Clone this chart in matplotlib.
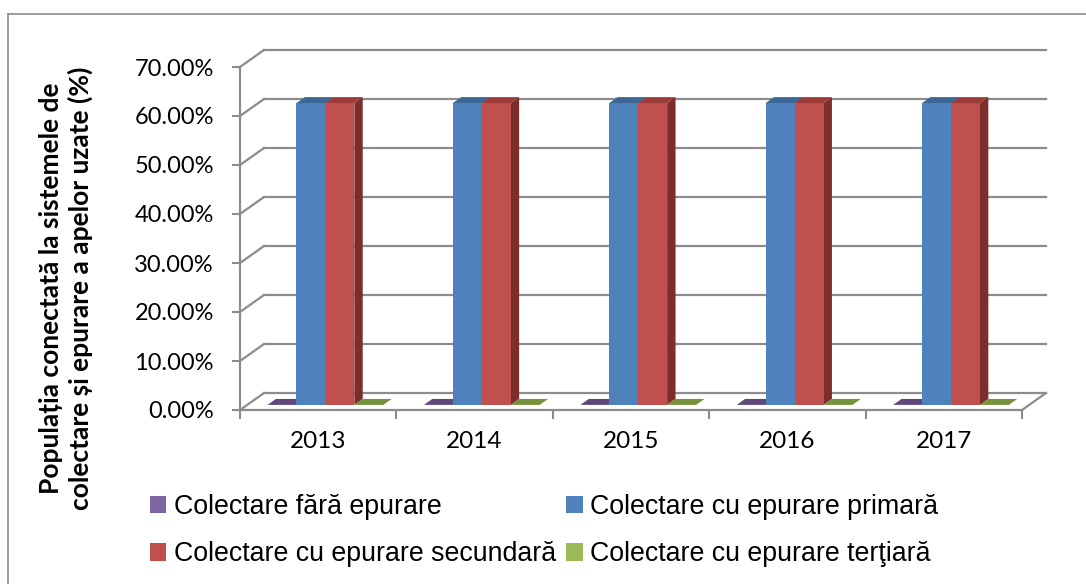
import matplotlib.pyplot as plt
from matplotlib.patches import Polygon, Rectangle
from matplotlib.lines import Line2D

# Data (%)
years = ['2013', '2014', '2015', '2016', '2017']
fara_epurare = [0.0, 0.0, 0.0, 0.0, 0.0]
epurare_primara = [61.6, 61.6, 61.6, 61.6, 61.6]
epurare_secundara = [61.6, 61.6, 61.6, 61.6, 61.6]
epurare_tertiara = [0.0, 0.0, 0.0, 0.0, 0.0]
y_ticks = [0, 10, 20, 30, 40, 50, 60, 70]

series = [
    ('Colectare fără epurare', fara_epurare, '#8064A2', '#5F497A', '#4F3D66'),
    ('Colectare cu epurare primară', epurare_primara, '#4F81BD', '#3C6696', '#345A85'),
    ('Colectare cu epurare secundară', epurare_secundara, '#C0504D', '#9E3C39', '#7B2E2C'),
    ('Colectare cu epurare terţiară', epurare_tertiara, '#9BBB59', '#76923C', '#62792F'),
]

W, H = 1086, 584
fig = plt.figure(figsize=(W / 100, H / 100), dpi=100)

# pixel geometry of the Excel-style 3D plot
px_x0, px_x5 = 240, 1022
px_y0, px_y70 = 410, 67
sx = (px_x5 - px_x0) / 5.0
sy = (px_y0 - px_y70) / 70.0
ax_left, ax_right, ax_bottom, ax_top = 240, 1052, 418, 40
ax = fig.add_axes([ax_left / W, 1 - ax_bottom / H, (ax_right - ax_left) / W, (ax_bottom - ax_top) / H])
ax.set_xlim(0, (ax_right - ax_left) / sx)
ax.set_ylim(-(ax_bottom - px_y0) / sy, (px_y0 - ax_top) / sy)

DX = 24 / sx   # depth offset (categories)
DY = 17 / sy   # depth offset (%)
d0, d1 = 0.30, 0.65
n = len(years)
grid_c = '#8C8C8C'

# back wall, side wall and floor lines
for v in y_ticks:
    ax.plot([0, DX], [v, v + DY], color=grid_c, lw=1.6, zorder=1)
    ax.plot([DX, n + DX], [v + DY, v + DY], color=grid_c, lw=1.6, zorder=1)
ax.plot([n, n + DX], [0, DY], color=grid_c, lw=1.6, zorder=1)

# bars
bw = 0.185
start = 0.5 - 2 * bw
z = 2
for i in range(n):
    for j, (name, vals, face, top, side) in enumerate(series):
        x0 = i + start + j * bw
        h = vals[i]
        fx0, fx1 = x0 + d0 * DX, x0 + bw + d0 * DX
        bx0, bx1 = x0 + d1 * DX, x0 + bw + d1 * DX
        fy, by = d0 * DY, d1 * DY
        if h > 0:
            ax.add_patch(Polygon([(fx1, fy), (bx1, by), (bx1, h + by), (fx1, h + fy)],
                                 closed=True, fc=side, ec='none', zorder=z))
            ax.add_patch(Polygon([(fx0, fy), (fx1, fy), (fx1, h + fy), (fx0, h + fy)],
                                 closed=True, fc=face, ec='none', zorder=z + 1))
        ax.add_patch(Polygon([(fx0, h + fy), (fx1, h + fy), (bx1, h + by), (bx0, h + by)],
                             closed=True, fc=top, ec='none', zorder=z + 1))
        z += 2

# axes
for s in ['top', 'right']:
    ax.spines[s].set_visible(False)
ax.spines['left'].set_position(('data', 0))
ax.spines['bottom'].set_position(('data', 0))
ax.spines['left'].set_bounds(0, 70)
ax.spines['bottom'].set_bounds(0, n)
for s in ['left', 'bottom']:
    ax.spines[s].set_color(grid_c)
    ax.spines[s].set_linewidth(1.6)
    ax.spines[s].set_zorder(1)

ax.set_yticks(y_ticks)
ax.set_yticklabels(['%.2f%%' % v for v in y_ticks])
ax.tick_params(axis='y', direction='out', length=5.8, width=1.5, color=grid_c,
               pad=13, labelsize=17, labelcolor='black')
ax.set_xticks(range(n + 1))
ax.set_xticklabels([])
ax.set_xticks([i + 0.5 for i in range(n)], minor=True)
ax.set_xticklabels(years, minor=True)
ax.tick_params(axis='x', which='major', direction='out', length=6.5, width=1.5, color=grid_c)
ax.tick_params(axis='x', which='minor', length=0, pad=15, labelsize=17.5)
for lab in ax.get_xticklabels(minor=True) + ax.get_yticklabels():
    lab.set_fontfamily('Lato')

fig.text(66 / W, 1 - 288 / H,
         'Populația conectată la sistemele de\ncolectare și epurare a apelor uzate (%)',
         rotation=90, ha='center', va='center', multialignment='center',
         fontsize=19, fontweight='bold', family='Lato', linespacing=1.25)

# legend
handles = [Rectangle((0, 0), 1, 1, fc=s[2], ec='none') for s in series]
order = [0, 2, 1, 3]
leg = fig.legend([handles[k] for k in order], [series[k][0] for k in order],
                 ncol=2, loc='upper left', bbox_to_anchor=(150 / W, 1 - 494 / H),
                 frameon=False, prop={'family': 'Liberation Sans', 'size': 19.3},
                 handlelength=0.6, handleheight=0.6, handletextpad=0.28,
                 columnspacing=0.4, labelspacing=0.8, borderpad=0, borderaxespad=0)

# outer chart border (left and top visible)
fig.add_artist(Line2D([8 / W, 8 / W], [0, 1 - 14 / H], color='#8C8C8C', lw=1.2))
fig.add_artist(Line2D([8 / W, 1], [1 - 14 / H, 1 - 14 / H], color='#8C8C8C', lw=1.2))

fig.savefig('out.png', dpi=100)
